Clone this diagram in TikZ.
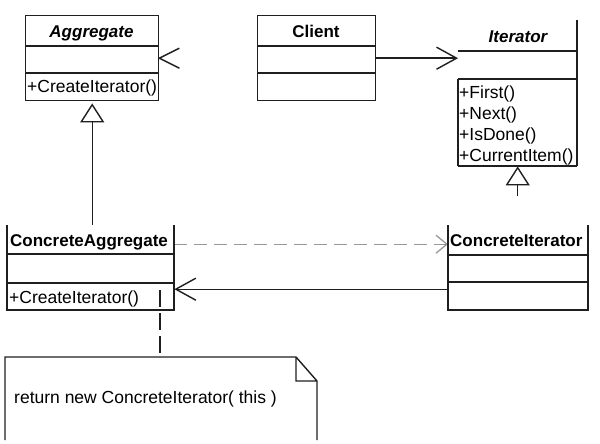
\documentclass[tikz,border=0pt]{standalone}
\usepackage{fontspec}
\setmainfont{Liberation Sans}
\usetikzlibrary{arrows.meta}
\begin{document}
\begin{tikzpicture}[x=1pt,y=-1pt,
  ln/.style={line width=1.4pt, draw=black!88},
  boxn/.style={rectangle, inner sep=0pt, anchor=north west},
  lbl/.style={inner sep=0pt, text height=12.5pt, text depth=0pt, font=\fontsize{17.5}{20}\selectfont},
  ttl/.style={lbl, font=\fontsize{17}{20}\selectfont\bfseries},
  attl/.style={lbl, font=\fontsize{17}{20}\selectfont\bfseries\itshape},
  opentip/.style={-{Straight Barb[length=20pt,width=22pt]}},
  inhtip/.style={-{Triangle[open,length=19pt,width=24pt]}}
]
\fill[white] (0,0) rectangle (600,444);
\useasboundingbox (0,0) rectangle (600,444);

% Aggregate
\node[boxn, ln, draw, minimum width=133pt, minimum height=85pt] (agg) at (25,15) {};
\draw[ln] (25,46) -- (158,46) (25,73) -- (158,73);
\node[attl] (aggt) at (91.5,31) {Aggregate};
\node[lbl, anchor=west] (aggm) at (27,86) {+CreateIterator()};

% Client
\node[boxn, ln, draw, minimum width=118pt, minimum height=85pt] (cli) at (257,15) {};
\draw[ln] (257,46) -- (375,46) (257,73) -- (375,73);
\node[ttl] (clit) at (316,31) {Client};

% Iterator
\node[boxn, minimum width=119pt, minimum height=146pt] (itr) at (458,20) {};
\draw[ln] (577,20) -- (577,166) (458,79) -- (458,166)
  (458,51) -- (577,51) (458,79) -- (577,79) (458,166) -- (577,166);
\node[attl] (itrt) at (518,36) {Iterator};
\node[lbl, anchor=west] (m1) at (459,92) {+First()};
\node[lbl, anchor=west] (m2) at (459,113) {+Next()};
\node[lbl, anchor=west] (m3) at (459,134) {+IsDone()};
\node[lbl, anchor=west] (m4) at (459,155) {+CurrentItem()};

% ConcreteAggregate
\node[boxn, minimum width=167pt, minimum height=85pt] (cagg) at (7,225) {};
\draw[ln] (7,225) -- (7,310) -- (174,310) -- (174,225)
  (7,254) -- (174,254) (7,283) -- (174,283);
\node[ttl, anchor=west] (caggt) at (10,240) {ConcreteAggregate};
\node[lbl, anchor=west] (caggm) at (9,297) {+CreateIterator()};

% ConcreteIterator
\node[boxn, minimum width=140pt, minimum height=85pt] (citr) at (448,225) {};
\draw[ln] (448,225) -- (448,310) -- (588,310) -- (588,225)
  (448,255) -- (588,255) (448,282) -- (588,282);
\node[ttl, anchor=west] (citrt) at (450,240) {ConcreteIterator};

% Note
\node[boxn, minimum width=312pt, minimum height=80pt] (note) at (5,357) {};
\draw[ln] (5,440) -- (5,357) -- (296,357) -- (317,381) -- (317,440)
  (296,357) -- (296,381) -- (317,381);
\node[lbl, anchor=west] (notet) at (14,397) {return new ConcreteIterator( this )};

% Connectors
\draw[ln, opentip] (cli.east) -- (cli.east -| itr.west);
\draw[ln] ([xshift=20pt,yshift=10pt]agg.east) -- (agg.east) -- ([xshift=20pt,yshift=-10pt]agg.east);
\draw[ln, inhtip] (cagg.north -| agg.south) -- ([yshift=-2pt]agg.south);
\draw[ln, inhtip] ([yshift=-30pt]itr.south) -- (itr.south);
\fill[white] ([yshift=-31pt]itr.south) rectangle ([xshift=2pt,yshift=-22pt]itr.south -| 600,0);
\draw[line width=1.3pt, draw=black!88, dash pattern=on 13pt off 7pt, draw opacity=0.45, -{Straight Barb[length=11pt,width=18pt]}]
  ([yshift=23.5pt]cagg.east) -- ([yshift=23.5pt]citr.west);
\draw[ln, opentip] ([yshift=-21.5pt]citr.west) -- ([yshift=-21.5pt]cagg.east);
\coordinate (ns) at (160,290);
\draw[ln, dash pattern=on 17pt off 6pt] (ns) -- (ns |- note.north);
\end{tikzpicture}
\end{document}
